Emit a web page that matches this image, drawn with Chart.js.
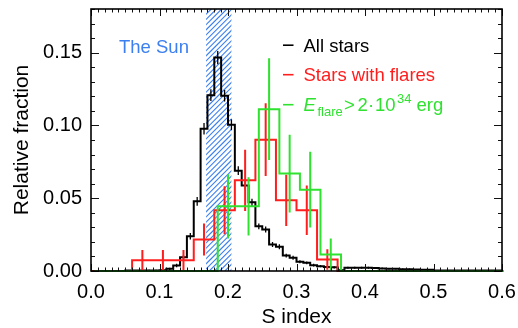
<!DOCTYPE html>
<html><head><meta charset="utf-8">
<script src="https://cdn.jsdelivr.net/npm/chart.js@4/dist/chart.umd.min.js"></script>
<style>html,body{margin:0;padding:0;background:#fff}#wrap{width:518px;height:328px;position:relative}</style>
</head><body><div id="wrap"><canvas id="c" width="518" height="328"></canvas></div>
<script>
// ---- data ----
const blackBinStart = 0.0, blackBinWidth = 0.01;
const blackValues = [
  0, 0, 0, 0, 0, 0.0003, 0.0003, 0.0003, 0.0003, 0.0003,
  0.0005, 0.0015, 0.0038, 0.0095, 0.0239, 0.0479, 0.0977, 0.1208, 0.1466, 0.1204,
  0.1005, 0.0689, 0.0588, 0.0472, 0.0307, 0.0285, 0.0182, 0.0166, 0.0106, 0.0091,
  0.0063, 0.0056, 0.0040, 0.0033, 0.0027, 0.0025, 0.0006, 0.0022, 0.0022, 0.0022,
  0.0022, 0.0020, 0.0018, 0.0015, 0.0015, 0.0012, 0.0012, 0.0010, 0.0008, 0.0008,
  0.0004, 0.0004, 0.0004, 0.0004, 0.0004, 0.0004, 0.0004, 0.0004, 0.0004, 0.0004
];
const blackErrors = [
  null, null, null, null, null, null, null, null, 0.0005, 0.0005,
  0.0006, 0.0008, 0.0012, 0.0015, 0.0022, 0.003, 0.004, 0.004, 0.0045, 0.004,
  0.0038, 0.003, 0.0028, 0.0025, 0.002, 0.002, 0.0017, 0.0017, 0.0013, 0.0013,
  0.001, 0.001, 0.0009, 0.0008, 0.0007, 0.0007, 0.0004, 0.0007, 0.0007, 0.0007,
  0.0007, 0.0006, 0.0006, 0.0005, 0.0005, 0.0005, 0.0005, 0.0004, 0.0004, 0.0004,
  null, null, null, null, null, null, null, null, null, null
];
const redBinStart = 0.0, redBinWidth = 0.03;
const redValues = [0, 0, 0.0074, 0.0074, 0.0074, 0.0216, 0.0417, 0.0623, 0.0902, 0.0486,
                   0.0417, 0.0079, 0, 0, 0, 0, 0, 0, 0, 0];
const redErrors = [null, null, 0.007, 0.007, 0.007, 0.011, 0.0165, 0.021, 0.025, 0.0176,
                   0.017, 0.007, null, null, null, null, null, null, null, null];
const greenBinStart = 0.005, greenBinWidth = 0.03;
const greenValues = [0, 0, 0, 0, 0, 0, 0.0444, 0.0444, 0.1112, 0.0669,
                     0.0559, 0.0113, 0, 0, 0, 0, 0, 0, 0, 0];
const greenErrors = [null, null, null, null, null, null, 0.022, 0.02, 0.035, 0.0267,
                     0.026, 0.011, null, null, null, null, null, null, null, null];
const sunRange = [0.168, 0.205];
const xTickValues = [0.0, 0.1, 0.2, 0.3, 0.4, 0.5, 0.6];
const yTickValues = [0.00, 0.05, 0.10, 0.15];
const xMinorStep = 0.01, yMinorStep = 0.01;
const xRange = [0, 0.6], yRange = [0, 0.18];

const COL_BLACK = '#000000', COL_RED = '#ff1e1e', COL_GREEN = '#2fe22f', COL_BLUE = '#3b7ff0';
const FONT = '"Liberation Sans", Arial, Helvetica, sans-serif';

// ---- helpers building library data ----
function stepPoints(start, width, values) {
  const pts = values.map((v, i) => ({x: start + i * width, y: v}));
  pts.push({x: start + values.length * width, y: values[values.length - 1]});
  return pts;
}
function errPoints(start, width, values, errs) {
  const pts = [];
  values.forEach((v, i) => {
    if (errs[i] == null) return;
    const c = start + (i + 0.5) * width;
    pts.push({x: c, y: v - errs[i]}, {x: c, y: v + errs[i]}, {x: c, y: null});
  });
  return pts;
}
function histDS(pts, color, order) {
  return {data: pts, borderColor: color, borderWidth: 2, stepped: 'before', pointRadius: 0,
          fill: false, order: order, borderJoinStyle: 'miter', clip: 2};
}
function errDS(pts, color, order, w) {
  return {data: pts, borderColor: color, borderWidth: w, pointRadius: 0, fill: false,
          spanGaps: false, order: order, clip: 2, borderCapStyle: 'butt'};
}

// ---- custom drawing plugin (hatch, frame, inward ticks, legend, label) ----
const decor = {
  id: 'decor',
  beforeDatasetsDraw(chart) {
    const {ctx, chartArea: a, scales: {x}} = chart;
    const x0 = x.getPixelForValue(sunRange[0]), x1 = x.getPixelForValue(sunRange[1]);
    ctx.save();
    ctx.beginPath(); ctx.rect(x0, a.top, x1 - x0, a.bottom - a.top); ctx.clip();
    ctx.strokeStyle = COL_BLUE; ctx.lineWidth = 1.1;
    const h = a.bottom - a.top, sp = 5.2;
    ctx.beginPath();
    for (let s = x0 - h; s < x1 + sp; s += sp) {
      ctx.moveTo(s, a.bottom); ctx.lineTo(s + h, a.top);
    }
    ctx.stroke();
    ctx.restore();
  },
  afterDatasetsDraw(chart) {
    const {ctx, chartArea: a, scales: {x, y}} = chart;
    ctx.save();
    ctx.strokeStyle = '#111'; ctx.lineWidth = 1;
    ctx.beginPath();
    const nx = Math.round((xRange[1] - xRange[0]) / xMinorStep);
    for (let i = 0; i <= nx; i++) {
      const v = xRange[0] + i * xMinorStep;
      const major = xTickValues.some(t => Math.abs(t - v) < 1e-9);
      const px = Math.round(x.getPixelForValue(v)) + 0.5, L = major ? 7 : 3.5;
      ctx.moveTo(px, a.bottom); ctx.lineTo(px, a.bottom - L);
      ctx.moveTo(px, a.top); ctx.lineTo(px, a.top + L);
    }
    const ny = Math.round((yRange[1] - yRange[0]) / yMinorStep);
    for (let i = 0; i <= ny; i++) {
      const v = yRange[0] + i * yMinorStep;
      const major = yTickValues.some(t => Math.abs(t - v) < 1e-9);
      const py = Math.round(y.getPixelForValue(v)) + 0.5, L = major ? 8 : 4;
      ctx.moveTo(a.left, py); ctx.lineTo(a.left + L, py);
      ctx.moveTo(a.right, py); ctx.lineTo(a.right - L, py);
    }
    ctx.stroke();
    ctx.lineWidth = 1.6; ctx.strokeStyle = '#000';
    ctx.strokeRect(a.left, a.top, a.right - a.left, a.bottom - a.top);

    // "The Sun"
    ctx.fillStyle = COL_BLUE; ctx.textBaseline = 'alphabetic'; ctx.textAlign = 'left';
    ctx.font = '18.5px ' + FONT;
    ctx.fillText('The Sun', 119, 52.5);

    // legend
    const rows = [
      {color: COL_BLACK, base: 51.7},
      {color: COL_RED, base: 81.2},
      {color: COL_GREEN, base: 111.2}
    ];
    rows.forEach(r => {
      ctx.strokeStyle = r.color; ctx.lineWidth = 1.6;
      ctx.beginPath(); ctx.moveTo(283, r.base - 6.5); ctx.lineTo(293.5, r.base - 6.5); ctx.stroke();
    });
    ctx.font = '18.5px ' + FONT;
    ctx.fillStyle = COL_BLACK; ctx.fillText('All stars', 303.5, rows[0].base);
    ctx.fillStyle = COL_RED; ctx.fillText('Stars with flares', 303.5, rows[1].base);
    ctx.fillStyle = COL_GREEN;
    const b = rows[2].base;
    ctx.font = 'italic 18.5px ' + FONT; ctx.fillText('E', 303.5, b);
    ctx.font = '13px ' + FONT; ctx.fillText('flare', 317.5, b + 5);
    ctx.font = '18.5px ' + FONT;
    ctx.fillText('>', 344, b); ctx.fillText('2', 357.5, b);
    ctx.fillText('\u00B7', 368, b); ctx.fillText('10', 375, b);
    ctx.font = '13px ' + FONT; ctx.fillText('34', 397, b - 8.5);
    ctx.font = '18.5px ' + FONT; ctx.fillText('erg', 416.5, b);
    ctx.restore();
  }
};

new Chart(document.getElementById('c'), {
  type: 'line',
  data: {datasets: [
    histDS(stepPoints(blackBinStart, blackBinWidth, blackValues), COL_BLACK, 6),
    errDS(errPoints(blackBinStart, blackBinWidth, blackValues, blackErrors), COL_BLACK, 5, 1.3),
    histDS(stepPoints(redBinStart, redBinWidth, redValues), COL_RED, 4),
    errDS(errPoints(redBinStart, redBinWidth, redValues, redErrors), COL_RED, 3, 2),
    histDS(stepPoints(greenBinStart, greenBinWidth, greenValues), COL_GREEN, 2),
    errDS(errPoints(greenBinStart, greenBinWidth, greenValues, greenErrors), COL_GREEN, 1, 2)
  ]},
  options: {
    responsive: false, animation: false, devicePixelRatio: 1,
    layout: {padding: {left: 0, right: 16, top: 9, bottom: 0}},
    plugins: {legend: {display: false}, tooltip: {enabled: false}},
    scales: {
      x: {
        type: 'linear', min: xRange[0], max: xRange[1],
        grid: {display: false, drawTicks: false}, border: {display: false},
        afterBuildTicks: s => { s.ticks = xTickValues.map(v => ({value: v})); },
        afterFit: s => { s.height = 57; s.paddingLeft = 0; s.paddingRight = 0; },
        ticks: {color: '#000', padding: 9, maxRotation: 0, autoSkip: false,
                font: {family: FONT, size: 20}, callback: v => Number(v).toFixed(1)},
        title: {display: true, text: 'S index', color: '#000', padding: {top: 0, bottom: 0},
                font: {family: FONT, size: 21, lineHeight: 1}}
      },
      y: {
        type: 'linear', min: yRange[0], max: yRange[1],
        grid: {display: false, drawTicks: false}, border: {display: false},
        afterBuildTicks: s => { s.ticks = yTickValues.map(v => ({value: v})); },
        afterFit: s => { s.width = 91; s.paddingTop = 0; s.paddingBottom = 0; },
        ticks: {color: '#000', padding: 9, autoSkip: false,
                font: {family: FONT, size: 20}, callback: v => Number(v).toFixed(2)},
        title: {display: true, text: 'Relative fraction', color: '#000', padding: {top: 12, bottom: 0},
                font: {family: FONT, size: 21, lineHeight: 1}}
      }
    }
  },
  plugins: [decor]
});
</script>
</body></html>
